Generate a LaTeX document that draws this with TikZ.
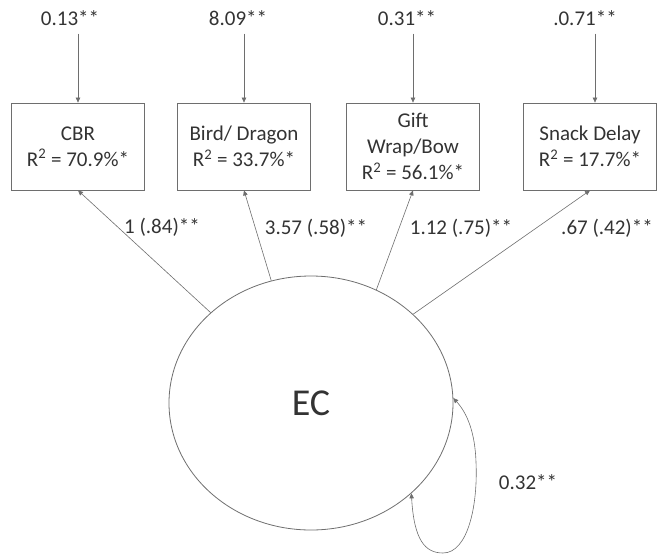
\documentclass[tikz,border=0pt]{standalone}
\usepackage{fontspec}
\setmainfont{Carlito}
\usetikzlibrary{shapes.geometric, arrows.meta, positioning}
\definecolor{lineGray}{HTML}{6E6E6E}
\definecolor{textGray}{HTML}{333333}
\tikzset{
    font=\fontsize{21}{26}\selectfont,
    >={Triangle[length=5pt,width=4.5pt]},
    % Shapes
    indicator/.style={rectangle, draw=lineGray, thick, text=textGray,
                      minimum width=133pt, minimum height=87pt, align=center, inner sep=2pt},
    latent/.style={ellipse, draw=lineGray, thick, text=textGray,
                   minimum width=284pt, minimum height=254pt, inner sep=0pt,
                   font=\fontsize{38}{44}\selectfont},
    % Flow & Labels
    path/.style={->, lineGray, semithick},
    lbl/.style={text=textGray, inner sep=2pt}
}
\begin{document}
\begin{tikzpicture}[x=1pt, y=-1pt]
\useasboundingbox (0,0) rectangle (657,555);

\node[latent] (ec) at (311,403) {EC};

\node[indicator] (cbr)   at (78,146.5)  {CBR\\R\textsuperscript{2} = 70.9\%*};
\node[indicator] (bird)  at (244,146.5) {Bird/ Dragon\\R\textsuperscript{2} = 33.7\%*};
\node[indicator] (gift)  at (413,146.5) {Gift\\Wrap/Bow\\R\textsuperscript{2} = 56.1\%*};
\node[indicator] (snack) at (590,146.5) {Snack Delay\\R\textsuperscript{2} = 17.7\%*};

% error variances
\node[lbl] (e1) at (70,18)  {0.13**};
\node[lbl] (e2) at (238,18) {8.09**};
\node[lbl] (e3) at (407,18) {0.31**};
\node[lbl] (e4) at (585,18) {.0.71**};

\draw[path, shorten <=6pt] (cbr.north |- e1.south) -- (cbr.north);
\draw[path, shorten <=6pt] (bird.north |- e2.south) -- (bird.north);
\draw[path, shorten <=6pt] (gift.north |- e3.south) -- (gift.north);
\draw[path, shorten <=6pt, transform canvas={xshift=5pt}] (snack.north |- e4.south) -- (snack.north);

% loadings
\draw[path] (ec.138) -- (cbr.south);
\draw[path] (ec.108) -- (bird.south);
\draw[path] (ec.60)  -- (gift.south);
\draw[path] (ec.41)  -- (snack.south);

\node[lbl] (l1) at (162,227) {1 (.84)**};
\node[lbl] (l2) at (316,228) {3.57 (.58)**};
\node[lbl] (l3) at (461,228) {1.12 (.75)**};
\node[lbl] (l4) at (607,228) {.67 (.42)**};

% variance of EC
\draw[path, <->] (ec.-42) .. controls (414,540) and (425,553) .. (443,553)
    .. controls (468,553) and (478,505) .. (476,462)
    .. controls (475,432) and (467,413) .. (ec.2);
\node[lbl] (v1) at (528,482) {0.32**};

\end{tikzpicture}
\end{document}
